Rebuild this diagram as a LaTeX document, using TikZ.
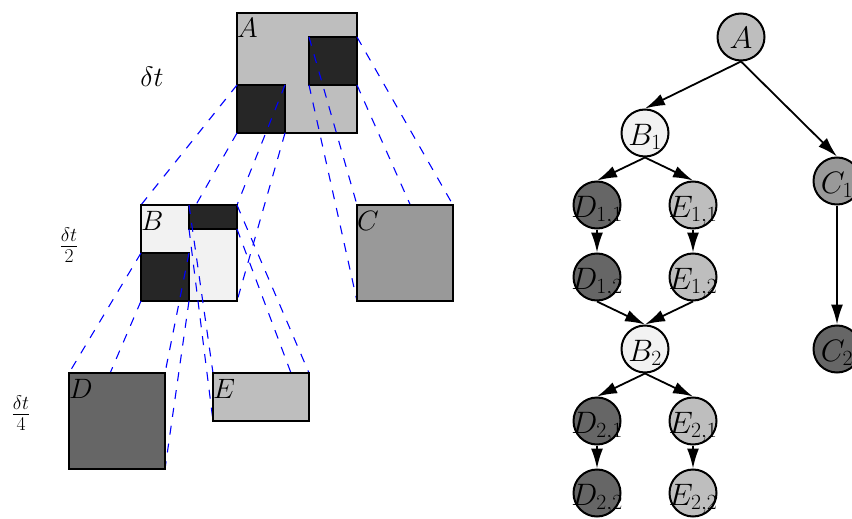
\RequirePackage{fix-cm}
\documentclass[tikz,border=0pt]{standalone}
\usetikzlibrary{arrows.meta}
\definecolor{cA}{HTML}{BEBEBE}
\definecolor{cDk}{HTML}{262626}
\definecolor{cB}{HTML}{F2F2F2}
\definecolor{cC}{HTML}{999999}
\definecolor{cD}{HTML}{666666}
\pgfdeclarelayer{lA}\pgfdeclarelayer{lAB}\pgfdeclarelayer{lB}\pgfdeclarelayer{lBD}
\pgfsetlayers{lA,lAB,lB,lBD,main}
\newcommand\nodetxt[1]{\makebox[0pt]{$#1$}}
\begin{document}
\begin{tikzpicture}[x=1pt,y=-1pt, font=\fontsize{28}{34}\selectfont,
  box/.style={draw, line width=2pt, rectangle, inner sep=0pt, outer sep=0pt},
  map/.style={blue, line width=1.1pt, dash pattern=on 9pt off 9pt},
  lbl/.style={inner sep=0pt, anchor=base west},
  circ/.style={circle, draw, line width=2pt, minimum size=47pt, inner sep=0pt,
    text height=24pt, text depth=0pt, font=\fontsize{31}{36}\selectfont},
  edge/.style={line width=1.8pt, -{Latex[length=20pt,width=12pt]}}]
\useasboundingbox (0,0) rectangle (852,519);

% ---- level delta t
\begin{pgfonlayer}{lA}
\node[box, fill=cA, minimum width=120pt, minimum height=120pt] (bA) at (297,73) {};
\node[box, fill=cDk, minimum width=48pt, minimum height=48pt] (bA1) at (261,109) {};
\node[box, fill=cDk, minimum width=48pt, minimum height=48pt] (bA2) at (333,61) {};
\node[lbl] (tA) at (237,38) {$A$};
\end{pgfonlayer}

% ---- level delta t / 2
\begin{pgfonlayer}{lB}
\node[box, fill=cB, minimum width=96pt, minimum height=96pt] (bB) at (189,253) {};
\node[box, fill=cDk, minimum width=48pt, minimum height=24pt] (bB1) at (213,217) {};
\node[box, fill=cDk, minimum width=48pt, minimum height=48pt] (bB2) at (165,277) {};
\node[box, fill=cC, minimum width=96pt, minimum height=96pt] (bC) at (405,253) {};
\node[lbl] (tB) at (141,230) {$B$};
\node[lbl] (tC) at (357,230) {$C$};
\end{pgfonlayer}

% ---- level delta t / 4
\node[box, fill=cD, minimum width=96pt, minimum height=96pt] (bD) at (117,421) {};
\node[box, fill=cA, minimum width=96pt, minimum height=48pt] (bE) at (261,397) {};
\node[lbl] (tD) at (69,398) {$D$};
\node[lbl] (tE) at (213,398) {$E$};

% ---- mapping lines
\begin{pgfonlayer}{lAB}
\foreach \c in {north west, south west, north east, south east}{
  \draw[map] (bA1.\c) -- (bB.\c);
  \draw[map] (bA2.\c) -- (bC.\c);
}
\end{pgfonlayer}
\begin{pgfonlayer}{lBD}
\foreach \c in {north west, south west, north east, south east}{
  \draw[map] (bB2.\c) -- (bD.\c);
  \draw[map] (bB1.\c) -- (bE.\c);
}
\end{pgfonlayer}

% ---- time step labels
\node[anchor=base] (dt1) at (152,87) {$\delta t$};
\node[anchor=base] (dt2) at (69,253) {$\frac{\delta t}{2}$};
\node[anchor=base] (dt4) at (21,421) {$\frac{\delta t}{4}$};

% ---- tree
\node[circ, fill=cA] (nA) at (741,37) {\nodetxt{A}};
\node[circ, fill=cB] (nB1) at (645,133) {\nodetxt{B_1}};
\node[circ, fill=cC] (nC1) at (837,181) {\nodetxt{C_1}};
\node[circ, fill=cD] (nD11) at (597,205) {\nodetxt{D_{1,1}}};
\node[circ, fill=cA] (nE11) at (693,205) {\nodetxt{E_{1,1}}};
\node[circ, fill=cD] (nD12) at (597,277) {\nodetxt{D_{1,2}}};
\node[circ, fill=cA] (nE12) at (693,277) {\nodetxt{E_{1,2}}};
\node[circ, fill=cB] (nB2) at (645,349) {\nodetxt{B_2}};
\node[circ, fill=cD] (nC2) at (837,349) {\nodetxt{C_2}};
\node[circ, fill=cD] (nD21) at (597,421) {\nodetxt{D_{2,1}}};
\node[circ, fill=cA] (nE21) at (693,421) {\nodetxt{E_{2,1}}};
\node[circ, fill=cD] (nD22) at (597,493) {\nodetxt{D_{2,2}}};
\node[circ, fill=cA] (nE22) at (693,493) {\nodetxt{E_{2,2}}};

\draw[edge] (nA.south) -- (nB1.north);
\draw[edge] (nA.south) -- (nC1.north);
\draw[edge] (nB1.south) -- (nD11.north);
\draw[edge] (nB1.south) -- (nE11.north);
\draw[edge] (nD11.south) -- (nD12.north);
\draw[edge] (nE11.south) -- (nE12.north);
\draw[edge] (nD12.south) -- (nB2.north);
\draw[edge] (nE12.south) -- (nB2.north);
\draw[edge] (nC1.south) -- (nC2.north);
\draw[edge] (nB2.south) -- (nD21.north);
\draw[edge] (nB2.south) -- (nE21.north);
\draw[edge] (nD21.south) -- (nD22.north);
\draw[edge] (nE21.south) -- (nE22.north);
\end{tikzpicture}
\end{document}
